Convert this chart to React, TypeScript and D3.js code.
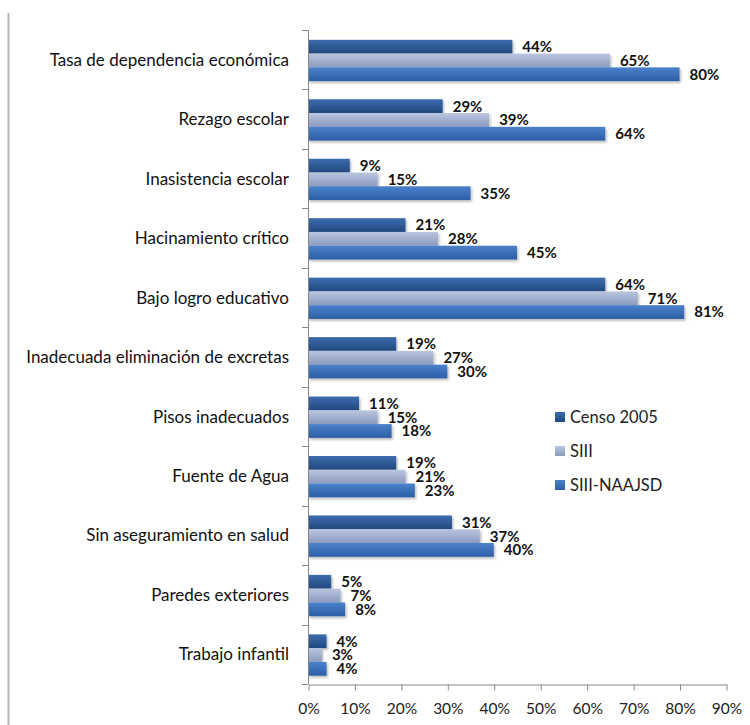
import React, { useEffect, useRef } from 'react';
import * as d3 from 'd3';

// categories, top to bottom
const categories = [
  'Tasa de dependencia económica',
  'Rezago escolar',
  'Inasistencia escolar',
  'Hacinamiento crítico',
  'Bajo logro educativo',
  'Inadecuada eliminación de excretas',
  'Pisos inadecuados',
  'Fuente de Agua',
  'Sin aseguramiento en salud',
  'Paredes exteriores',
  'Trabajo infantil',
];
const seriesNames = ['Censo 2005', 'SIII', 'SIII-NAAJSD'];
const censo = [44, 29, 9, 21, 64, 19, 11, 19, 31, 5, 4];
const siii = [65, 39, 15, 28, 71, 27, 15, 21, 37, 7, 3];
const naajsd = [80, 64, 35, 45, 81, 30, 18, 23, 40, 8, 4];
const xTicks = [0, 10, 20, 30, 40, 50, 60, 70, 80, 90];

const gradients = [
  ['#3d6cae', '#21487f'],
  ['#bac5df', '#8b9bbf'],
  ['#4a82cb', '#2c5ea6'],
];

export default function App() {
  const ref = useRef<SVGSVGElement>(null);

  useEffect(() => {
    document.body.style.margin = '0';
    const svg = d3.select(ref.current);
    svg.selectAll('*').remove();
    const width = 750, height = 725;
    const margin = { top: 30, left: 308, right: 24, bottom: 41 };
    const font = 'Lato, "Noto Sans", sans-serif';

    const x = d3.scaleLinear().domain([0, 90]).range([margin.left, width - margin.right]);
    const y = d3.scaleBand().domain(categories).range([margin.top, height - margin.bottom]);
    const inner = d3.scaleBand().domain(seriesNames).range([y.bandwidth() * 0.165, y.bandwidth() * 0.86]);

    const defs = svg.append('defs');
    gradients.forEach((g, i) => {
      const lg = defs.append('linearGradient').attr('id', 'grad' + i).attr('x1', 0).attr('y1', 0).attr('x2', 0).attr('y2', 1);
      lg.append('stop').attr('offset', '0%').attr('stop-color', g[0]);
      lg.append('stop').attr('offset', '100%').attr('stop-color', g[1]);
    });
    const f = defs.append('filter').attr('id', 'shadow').attr('x', '-5%').attr('y', '-20%').attr('width', '115%').attr('height', '160%');
    f.append('feDropShadow').attr('dx', 1.5).attr('dy', 2).attr('stdDeviation', 1.2).attr('flood-color', '#000').attr('flood-opacity', 0.25);

    // frame line on the left
    svg.append('line').attr('x1', 8.5).attr('x2', 8.5).attr('y1', 13).attr('y2', height).attr('stroke', '#b8b8b8').attr('stroke-width', 2);

    const data = [censo, siii, naajsd];
    const rows = svg.append('g');
    categories.forEach((cat, ci) => {
      data.forEach((vals, si) => {
        const y0 = (y(cat) as number) + (inner(seriesNames[si]) as number);
        rows.append('rect')
          .attr('x', x(0)).attr('y', y0)
          .attr('width', x(vals[ci]) - x(0)).attr('height', inner.bandwidth())
          .attr('fill', `url(#grad${si})`).attr('filter', 'url(#shadow)');
        rows.append('text')
          .attr('x', x(vals[ci]) + 10).attr('y', y0 + inner.bandwidth() / 2)
          .attr('dy', '0.36em').attr('font-family', font).attr('font-weight', 700)
          .attr('font-size', 15).attr('fill', '#111').text(vals[ci] + '%');
      });
      svg.append('text')
        .attr('x', margin.left - 19).attr('y', (y(cat) as number) + y.bandwidth() / 2)
        .attr('dy', '0.36em').attr('text-anchor', 'end').attr('font-family', font)
        .attr('font-size', 17).attr('fill', '#111').text(cat);
    });

    // y axis line and category ticks
    const yAxis = svg.append('g');
    yAxis.append('line').attr('x1', margin.left + 0.5).attr('x2', margin.left + 0.5)
      .attr('y1', margin.top).attr('y2', height - margin.bottom).attr('stroke', '#888');
    const bounds = categories.map(c => y(c) as number).concat([height - margin.bottom]);
    yAxis.selectAll('line.tick').data(bounds).enter().append('line')
      .attr('x1', margin.left - 6).attr('x2', margin.left)
      .attr('y1', d => Math.round(d) + 0.5).attr('y2', d => Math.round(d) + 0.5).attr('stroke', '#888');

    // x axis
    const xa = svg.append('g').attr('transform', `translate(0.5,${height - margin.bottom + 0.5})`)
      .call(d3.axisBottom(x).tickValues(xTicks).tickFormat(d => d + '%').tickSize(6).tickSizeOuter(0).tickPadding(12));
    xa.select('.domain').attr('stroke', '#888');
    xa.selectAll('.tick line').attr('stroke', '#888');
    xa.selectAll('.tick text').attr('font-family', font).attr('font-size', 15.5).attr('fill', '#222');

    // legend
    const lg = svg.append('g').attr('transform', 'translate(555,417)');
    seriesNames.forEach((s, i) => {
      lg.append('rect').attr('x', 0).attr('y', i * 34 - 5).attr('width', 10).attr('height', 10).attr('fill', `url(#grad${i})`);
      lg.append('text').attr('x', 15).attr('y', i * 34).attr('dy', '0.36em')
        .attr('font-family', font).attr('font-size', 16.5).attr('fill', '#222').text(s);
    });
  }, []);

  return <svg ref={ref} width={750} height={725} style={{ display: 'block', background: '#fff' }} />;
}
